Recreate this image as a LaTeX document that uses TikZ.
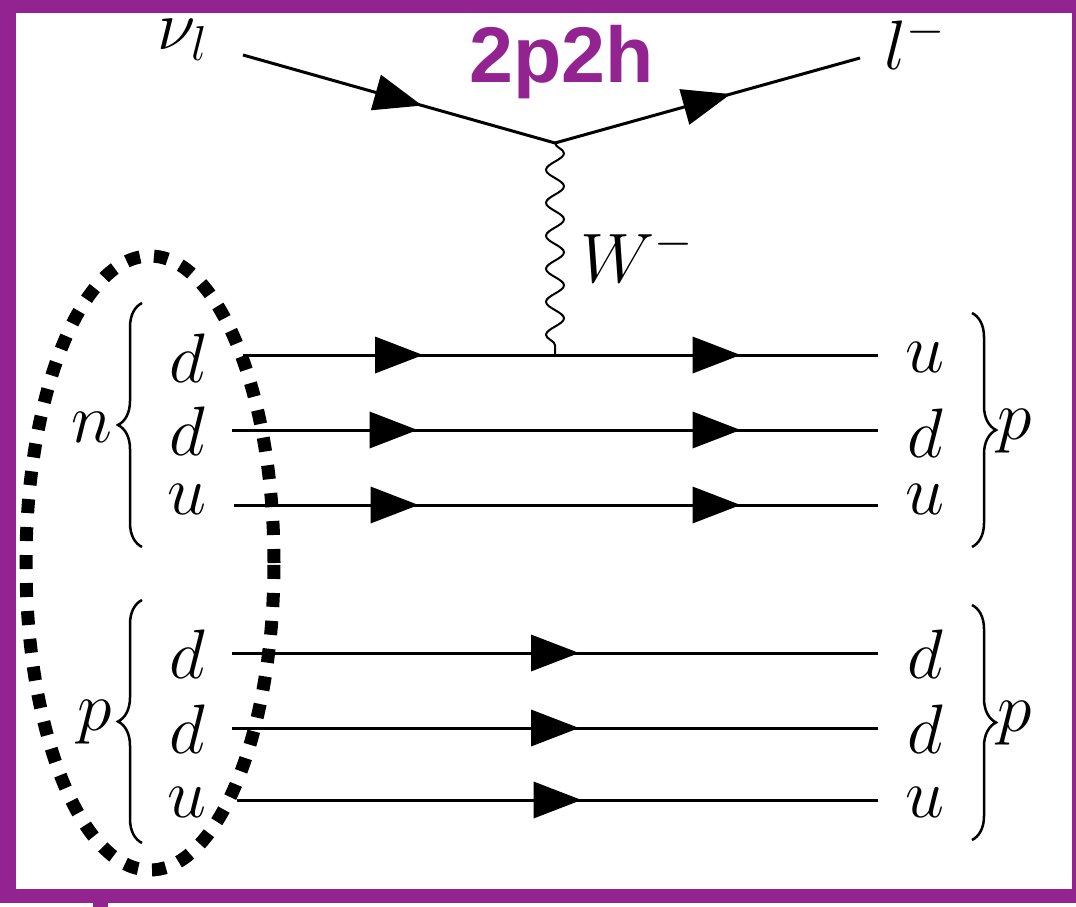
\RequirePackage{fix-cm}
\documentclass[tikz,border=0pt]{standalone}
\usepackage{fontspec}
\newfontfamily\hvfont{Liberation Sans}
\usetikzlibrary{decorations.markings,decorations.pathmorphing,decorations.pathreplacing,shapes.geometric}
\definecolor{framepurple}{RGB}{146,35,144}
\begin{document}
\begin{tikzpicture}[x=1pt,y=-1pt,
  fermion/.style={line width=3pt, postaction={decorate},
    decoration={markings, mark=at position 0.5 with {\fill (24pt,0pt) -- (-24pt,18.5pt) -- (-24pt,-18.5pt) -- cycle;}}},
  boson/.style={line width=2pt, decorate, decoration={snake, segment length=33pt, amplitude=9pt}},
  lbl/.style={inner sep=0pt, font=\fontsize{70}{80}\selectfont},
  bracel/.style={line width=2.5pt, decorate, decoration={brace, amplitude=24pt}},
  band/.style={fill=framepurple, draw=none},
  grpring/.style={draw, ellipse, inner sep=0pt, line width=13pt, dash pattern=on 14pt off 14pt}]
\useasboundingbox (0,0) rectangle (1076,907);
% frame
\fill[band] (0,0) rectangle (1076,13);
\fill[band] (0,0) rectangle (16,903);
\fill[band] (1072,0) rectangle (1076,903);
\fill[band] (0,889) rectangle (1076,903);
\fill[band] (93,903) rectangle (108,907);
% coordinates
\coordinate (nuin) at (243,55);
\coordinate (v1) at (555,143);
\coordinate (lout) at (860,58);
\coordinate (v2) at (555,355);
\coordinate (a1) at (243,355); \coordinate (b1) at (878,355);
\coordinate (a2) at (232,430); \coordinate (m2) at (555,430); \coordinate (b2) at (878,430);
\coordinate (a3) at (234,505); \coordinate (m3) at (555,505); \coordinate (b3) at (878,505);
\coordinate (a4) at (232,653); \coordinate (b4) at (878,653);
\coordinate (a5) at (232,728); \coordinate (b5) at (878,728);
\coordinate (a6) at (237,800); \coordinate (b6) at (878,800);
% leptons and W
\draw[fermion] (nuin) -- (v1);
\draw[fermion] (v1) -- (lout);
\draw[boson] (v1) -- (v2);
% quark lines
\draw[fermion] (a1) -- (v2); \draw[fermion] (v2) -- (b1);
\draw[fermion] (a2) -- (m2); \draw[fermion] (m2) -- (b2);
\draw[fermion] (a3) -- (m3); \draw[fermion] (m3) -- (b3);
\draw[fermion] (a4) -- (b4);
\draw[fermion] (a5) -- (b5);
\draw[fermion] (a6) -- (b6);
% labels
\node[lbl, anchor=base west] (nul) at (157,50) {$\nu_l$};
\node[lbl, anchor=base west] (lm) at (884,70) {$l^-$};
\node[anchor=base west, inner sep=0pt, font=\hvfont\bfseries\fontsize{79}{90}\selectfont, text=framepurple] (title) at (469,82) {2p2h};
\node[lbl, anchor=base west] (wl) at (580,282) {$W^-$};
\node[lbl, anchor=base] (l1) at (187,382) {$d$};
\node[lbl, anchor=base] (l2) at (187,455) {$d$};
\node[lbl, anchor=base] (l3) at (187,514) {$u$};
\node[lbl, anchor=base] (l4) at (187,678) {$d$};
\node[lbl, anchor=base] (l5) at (187,753) {$d$};
\node[lbl, anchor=base] (l6) at (187,817) {$u$};
\node[lbl, anchor=base] (r1) at (925,372) {$u$};
\node[lbl, anchor=base] (r2) at (925,457) {$d$};
\node[lbl, anchor=base] (r3) at (925,514) {$u$};
\node[lbl, anchor=base] (r4) at (925,678) {$d$};
\node[lbl, anchor=base] (r5) at (925,753) {$d$};
\node[lbl, anchor=base] (r6) at (925,817) {$u$};
\node[lbl, anchor=base] (nn) at (92,442) {$n$};
\node[lbl, anchor=base] (pl) at (95,730) {$p$};
\node[lbl, anchor=base] (pr1) at (1015,439) {$p$};
\node[lbl, anchor=base] (pr2) at (1015,731) {$p$};
% braces
\draw[bracel] (142,547) -- (142,303);
\draw[bracel] (142,843) -- (142,600);
\draw[bracel] (972,313) -- (972,547);
\draw[bracel] (972,605) -- (972,840);
% group ring
\node[grpring, minimum width=248pt, minimum height=614pt] (ring) at (150,563) {};
\end{tikzpicture}
\end{document}
